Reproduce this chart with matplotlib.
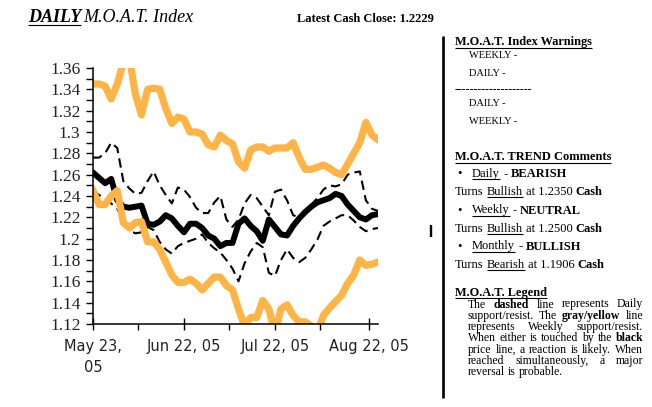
import matplotlib
matplotlib.use("Agg")
import matplotlib.pyplot as plt
import matplotlib.ticker as mticker
import pandas as pd

# sample dates, every 2nd day from May 23, 2005
dates = pd.date_range("2005-05-23", periods=48, freq="2D")

weekly_resist = [1.345, 1.345, 1.343, 1.331, 1.345, 1.365, 1.370, 1.335, 1.316, 1.340,
                 1.341, 1.340, 1.322, 1.308, 1.314, 1.312, 1.300, 1.300, 1.298, 1.288,
                 1.286, 1.297, 1.292, 1.289, 1.272, 1.266, 1.283, 1.286, 1.286, 1.282,
                 1.285, 1.285, 1.285, 1.290, 1.276, 1.265, 1.265, 1.267, 1.269, 1.266,
                 1.262, 1.260, 1.270, 1.280, 1.290, 1.309, 1.297, 1.293]

weekly_support = [1.245, 1.232, 1.232, 1.240, 1.245, 1.215, 1.210, 1.215, 1.216, 1.197,
                  1.197, 1.190, 1.178, 1.166, 1.159, 1.159, 1.162, 1.158, 1.152, 1.158,
                  1.164, 1.164, 1.156, 1.152, 1.134, 1.118, 1.126, 1.126, 1.142, 1.134,
                  1.112, 1.134, 1.138, 1.128, 1.122, 1.122, 1.118, 1.112, 1.128, 1.135,
                  1.141, 1.147, 1.158, 1.166, 1.180, 1.175, 1.176, 1.178]

price = [1.262, 1.257, 1.252, 1.256, 1.236, 1.230, 1.229, 1.230, 1.231, 1.214,
         1.213, 1.216, 1.222, 1.219, 1.212, 1.206, 1.214, 1.214, 1.210, 1.203,
         1.200, 1.193, 1.196, 1.196, 1.214, 1.219, 1.212, 1.207, 1.198, 1.218,
         1.211, 1.204, 1.203, 1.212, 1.219, 1.225, 1.230, 1.234, 1.236, 1.238,
         1.242, 1.240, 1.232, 1.226, 1.220, 1.218, 1.222, 1.223]

daily_resist = [1.276, 1.276, 1.280, 1.290, 1.285, 1.254, 1.247, 1.242, 1.243, 1.254,
                1.263, 1.250, 1.241, 1.233, 1.248, 1.246, 1.239, 1.229, 1.224, 1.224,
                1.234, 1.240, 1.218, 1.211, 1.218, 1.233, 1.241, 1.238, 1.230, 1.222,
                1.244, 1.246, 1.236, 1.222, 1.220, 1.225, 1.232, 1.238, 1.246, 1.250,
                1.249, 1.251, 1.260, 1.262, 1.263, 1.236, 1.228, 1.226]

daily_support = [1.245, 1.241, 1.237, 1.233, 1.228, 1.217, 1.208, 1.205, 1.206, 1.211,
                 1.208, 1.197, 1.190, 1.186, 1.193, 1.196, 1.198, 1.200, 1.204, 1.196,
                 1.191, 1.187, 1.180, 1.172, 1.160, 1.177, 1.188, 1.196, 1.192, 1.168,
                 1.165, 1.180, 1.190, 1.182, 1.178, 1.182, 1.190, 1.199, 1.212, 1.216,
                 1.219, 1.222, 1.222, 1.217, 1.211, 1.207, 1.209, 1.210]

major_dates = pd.to_datetime(["2005-05-23", "2005-06-22", "2005-07-22", "2005-08-22"])
major_labels = ["May 23,\n05", "Jun 22, 05", "Jul 22, 05", "Aug 22, 05"]
minor_dates = pd.to_datetime(["2005-06-07", "2005-07-07", "2005-08-06"])

warnings_lines = ["WEEKLY -", "DAILY -", None, "DAILY -", "WEEKLY -"]
trend_items = [
    ("Daily", "BEARISH", "Bullish", "1.2350"),
    ("Weekly", "NEUTRAL", "Bullish", "1.2500"),
    ("Monthly", "BULLISH", "Bearish", "1.1906"),
]
legend_lines = [
    [("The", 0), ("dashed", 1), ("line", 0), ("represents", 0), ("Daily", 0)],
    [("support/resist.", 0), ("The", 0), ("gray/yellow", 1), ("line", 0)],
    [("represents", 0), ("Weekly", 0), ("support/resist.", 0)],
    [("When", 0), ("either", 0), ("is", 0), ("touched", 0), ("by", 0), ("the", 0), ("black", 1)],
    [("price", 0), ("line,", 0), ("a", 0), ("reaction", 0), ("is", 0), ("likely.", 0), ("When", 0)],
    [("reached", 0), ("simultaneously,", 0), ("a", 0), ("major", 0)],
    [("reversal", 0), ("is", 0), ("probable.", 0)],
]

ORANGE = "#FFB445"
SERIF = "Liberation Serif"
W, H = 652, 407

plt.rcParams["font.family"] = SERIF

fig = plt.figure(figsize=(W / 100, H / 100), dpi=100)
fig.patch.set_facecolor("white")

# ---- chart ----
ax = fig.add_axes([93 / W, 1 - 324 / H, 285 / W, 256 / H])
ax.plot(dates, daily_resist, color="black", lw=1.5, dashes=(4.5, 2.6))
ax.plot(dates, daily_support, color="black", lw=1.5, dashes=(4.5, 2.6))
ax.plot(dates, price, color="black", lw=4.3)
ax.plot(dates, weekly_resist, color=ORANGE, lw=5.2)
ax.plot(dates, weekly_support, color=ORANGE, lw=5.2)

ax.set_ylim(1.12, 1.36)
ax.set_xlim(dates[0], dates[-1])
ax.yaxis.set_major_locator(mticker.MultipleLocator(0.02))
ax.yaxis.set_minor_locator(mticker.MultipleLocator(0.01))
ax.yaxis.set_major_formatter(
    mticker.FuncFormatter(lambda v, p: f"{v:.2f}".rstrip("0").rstrip(".")))
ax.set_xticks(major_dates)
ax.set_xticklabels(major_labels, family="DejaVu Sans", fontsize=10.5,
                   color="#222222", linespacing=1.45)
ax.set_xticks(minor_dates, minor=True)
ax.tick_params(axis="y", which="both", direction="out", length=5, width=1,
               labelsize=12.5, labelcolor="#222222", pad=4)
ax.tick_params(axis="x", which="major", direction="inout", length=8, width=1, pad=7)
ax.tick_params(axis="x", which="minor", direction="out", length=4, width=1)
for s in ["top", "right"]:
    ax.spines[s].set_visible(False)
for s in ["left", "bottom"]:
    ax.spines[s].set_linewidth(1.1)

# ---- overlay in pixel coordinates for the text panel ----
ov = fig.add_axes([0, 0, 1, 1], facecolor="none")
ov.set_xlim(0, W)
ov.set_ylim(H, 0)
ov.axis("off")
renderer = fig.canvas.get_renderer()


def width(t):
    return t.get_window_extent(renderer).width


def space_width(size, **kw):
    a = ov.text(0, 0, "x x", fontsize=size, **kw)
    b = ov.text(0, 0, "xx", fontsize=size, **kw)
    sw = width(a) - width(b)
    a.remove()
    b.remove()
    return sw


def put_runs(x, y, runs, size, style="normal"):
    sp = space_width(size)
    for text, bold, under in runs:
        t = ov.text(x, y, text, fontsize=size, va="baseline", ha="left",
                    fontweight="bold" if bold else "normal", fontstyle=style)
        w = width(t)
        if under:
            ov.plot([x, x + w], [y + 2, y + 2], color="black", lw=0.8,
                    solid_capstyle="butt")
        x += w + sp
    return x


# title
put_runs(28, 22.5, [("DAILY", True, True)], 13, style="italic")
ov.text(83, 22.5, "M.O.A.T. Index", fontsize=13, style="italic", va="baseline")
ov.text(297, 21.5, "Latest Cash Close: 1.2229", fontsize=9, weight="bold",
        va="baseline")

# separator
ov.plot([443, 443], [36, 398], color="black", lw=1.9, solid_capstyle="butt")
ov.plot([430.5, 430.5], [225, 237], color="black", lw=1.7, solid_capstyle="butt")

# warnings block
put_runs(455, 45.5, [("M.O.A.T. Index Warnings", True, True)], 8.8)
warn_y = [57.5, 75.5, 93, 106.5, 123.5]
for txt, yy in zip(warnings_lines, warn_y):
    if txt is None:
        ov.text(455, yy, "-" * 20, fontsize=8.5, va="baseline")
    else:
        ov.text(469, yy, txt, fontsize=7.5, va="baseline")

# trend comments
put_runs(455, 160.5, [("M.O.A.T. TREND Comments", True, True)], 8.9)
trend_y = [177, 213.5, 249.5]
for (tf, state, turn, level), yy in zip(trend_items, trend_y):
    ov.text(457, yy, "\u2022", fontsize=9, va="baseline")
    put_runs(472, yy, [(tf, False, True), ("-", True, False), (state, True, False)], 9)
    put_runs(455, yy + 18, [("Turns", False, False), (turn, False, True),
                            ("at " + level, False, False), ("Cash", True, False)], 9)

# legend
put_runs(455, 296, [("M.O.A.T. Legend", True, True)], 8.9)
x0, x1 = 468, 643
leg_y0, leg_dy = 307.5, 11.3
leg_size = 8.5
for i, line in enumerate(legend_lines):
    yy = leg_y0 + i * leg_dy
    texts = [ov.text(0, yy, w, fontsize=leg_size, va="baseline",
                     fontweight="bold" if b else "normal") for w, b in line]
    widths = [width(t) for t in texts]
    if i < len(legend_lines) - 1:
        gap = (x1 - x0 - sum(widths)) / (len(texts) - 1)
    else:
        gap = space_width(leg_size)
    x = x0
    for t, w in zip(texts, widths):
        t.set_x(x)
        x += w + gap

fig.savefig("out.png", dpi=100)
